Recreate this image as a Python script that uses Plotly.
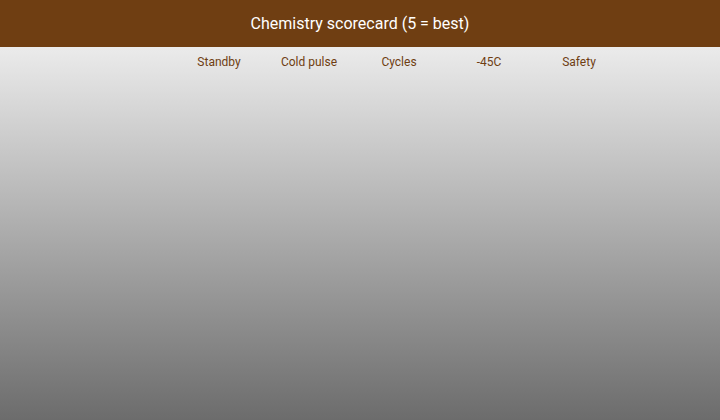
import plotly.graph_objects as go

W, H = 720, 420

title_text = "Chemistry scorecard (5 = best)"
criteria = ["Standby", "Cold pulse", "Cycles", "-45C", "Safety"]
scores = [[None, None, None, None, None]]
chemistries = [""]

brown = "#6f3e12"

fig = go.Figure()

# full-page gradient background on the base axis pair
fig.add_trace(go.Scatter(
    x=[0, 1, 1, 0, 0], y=[0, 0, 1, 1, 0],
    xaxis="x", yaxis="y",
    mode="lines", line=dict(width=0), fill="toself",
    fillgradient=dict(type="vertical",
                      colorscale=[[0, "#6c6c6c"], [1, "#fbfbfb"]]),
    hoverinfo="skip", showlegend=False,
))

fig.add_trace(go.Heatmap(
    x=criteria, y=chemistries, z=scores,
    xaxis="x2", yaxis="y2",
    showscale=False, hoverinfo="skip",
))

fig.update_layout(
    width=W, height=H,
    margin=dict(l=0, r=0, t=0, b=0, autoexpand=False),
    paper_bgcolor="#ffffff", plot_bgcolor="rgba(0,0,0,0)",
    font=dict(family="Roboto", color=brown, size=12),
    title=dict(text=title_text, x=0.5, xanchor="center",
               y=1 - 23.5 / H, yanchor="middle", yref="container",
               font=dict(family="Roboto", size=16, color="#ffffff")),
    xaxis=dict(domain=[0, 1], range=[0, 1], visible=False, fixedrange=True),
    yaxis=dict(domain=[0, 1], range=[0, 1], visible=False, fixedrange=True),
    xaxis2=dict(domain=[174 / W, 624 / W], side="top", anchor="y2",
                type="category", categoryorder="array",
                categoryarray=criteria, range=[-0.5, len(criteria) - 0.5],
                showgrid=False, zeroline=False, showline=False,
                automargin=False, ticks="",
                tickfont=dict(size=12, color=brown)),
    yaxis2=dict(domain=[20 / H, 1 - 69 / H], anchor="x2", visible=False,
                automargin=False),
    shapes=[dict(type="rect", xref="paper", yref="paper",
                 x0=0, x1=1, y0=1 - 47 / H, y1=1,
                 fillcolor=brown, line=dict(width=0), layer="above")],
)

fig.write_html("out.html", config={"displayModeBar": False},
               post_script="document.body.style.margin='0';")
